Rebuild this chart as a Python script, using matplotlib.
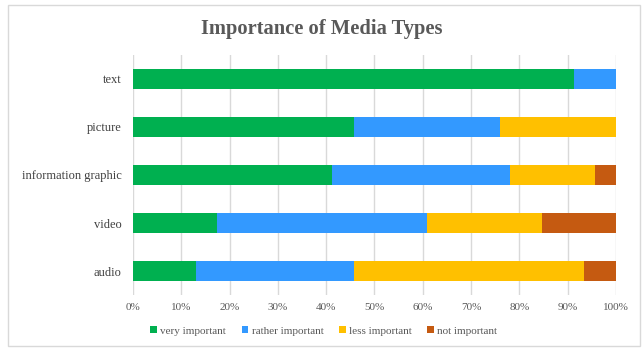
import numpy as np
import matplotlib.pyplot as plt
from matplotlib.patches import Rectangle
from matplotlib.ticker import PercentFormatter

plt.rcParams['font.family'] = ['Liberation Serif', 'DejaVu Serif']

categories = ['text', 'picture', 'information graphic', 'video', 'audio']
very_important = [91.3, 45.7, 41.3, 17.4, 13.1]
rather_important = [8.7, 30.3, 36.8, 43.5, 32.6]
less_important = [0.0, 24.0, 17.5, 23.8, 47.7]
not_important = [0.0, 0.0, 4.4, 15.3, 6.6]

series = [
    ('very important', very_important, '#00B050'),
    ('rather important', rather_important, '#3399FF'),
    ('less important', less_important, '#FFC000'),
    ('not important', not_important, '#C55A11'),
]

fig = plt.figure(figsize=(6.44, 3.5), dpi=100)
fig.patches.append(Rectangle((0.012, 0.012), 0.982, 0.975, transform=fig.transFigure,
                             fill=False, edgecolor='#D9D9D9', linewidth=1))
ax = fig.add_axes([0.2065, 0.157, 0.75, 0.686])

y = np.arange(len(categories))
left = np.zeros(len(categories))
for name, vals, col in series:
    vals = np.array(vals)
    ax.barh(y, vals, left=left, height=0.4, color=col, label=name, zorder=3)
    left += vals

ax.set_xlim(0, 100)
ax.set_ylim(len(categories) - 0.5, -0.5)
ax.set_yticks(y)
ax.set_yticklabels(categories, fontsize=9, color='#404040')
ax.set_xticks(np.arange(0, 101, 10))
ax.xaxis.set_major_formatter(PercentFormatter(decimals=0))
ax.tick_params(axis='x', labelsize=8, colors='#595959', length=0, pad=6)
ax.tick_params(axis='y', length=0, pad=8)
ax.grid(axis='x', color='#D9D9D9', linewidth=1, zorder=0)
for s in ax.spines.values():
    s.set_visible(False)

fig.suptitle('Importance of Media Types', y=0.945, fontsize=14.8, fontweight='bold', color='#595959')

ax.legend(loc='center', bbox_to_anchor=(0.395, -0.15), ncol=4, frameon=False,
          fontsize=8, handlelength=0.6, handleheight=0.6, handletextpad=0.3,
          columnspacing=1.4, labelcolor='#595959')

fig.savefig('out.png', dpi=100)
